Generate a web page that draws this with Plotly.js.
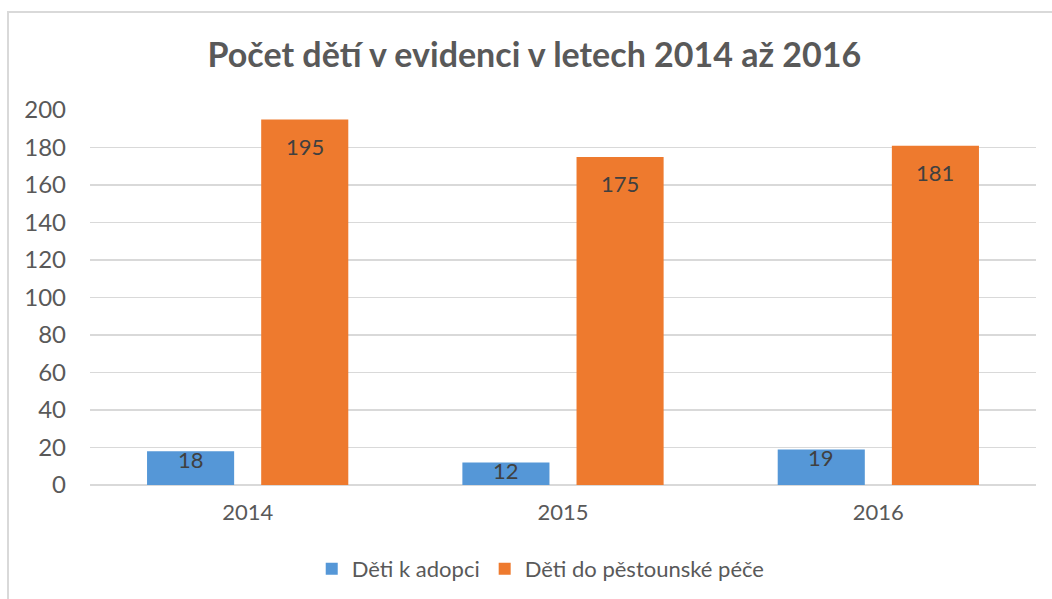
<!DOCTYPE html>
<html>
<head>
<meta charset="utf-8">
<script src="https://cdn.plot.ly/plotly-3.0.1.min.js"></script>
<style>
html,body{margin:0;padding:0;background:#fff;}
#chart{width:1052px;height:599px;}
#frame{position:absolute;left:7px;top:11px;width:1100px;height:700px;border-top:2px solid #d9d9d9;border-left:2px solid #d9d9d9;pointer-events:none;}
</style>
</head>
<body>
<div id="chart"></div>
<div id="frame"></div>
<script>
const years = ['2014', '2015', '2016'];
const adopce = [18, 12, 19];
const pestounska = [195, 175, 181];
const seriesNames = ['Děti k adopci', 'Děti do pěstounské péče'];
const titleText = 'Počet dětí v evidenci v letech 2014 až 2016';

const fontFam = 'Lato, "Open Sans", sans-serif';

const traces = [
  {type:'bar', name:seriesNames[0], x:years, y:adopce,
   marker:{color:'#5597D7'}, hoverinfo:'y'},
  {type:'bar', name:seriesNames[1], x:years, y:pestounska,
   marker:{color:'#EE7A2E'}, hoverinfo:'y'}
];

const annotations = [];
years.forEach((yr,i)=>{
  annotations.push({x:i, y:adopce[i], xref:'x', yref:'y', text:String(adopce[i]),
    showarrow:false, xshift:-57, yshift:-8, font:{family:fontFam, size:22, color:'#404040'}});
  annotations.push({x:i, y:pestounska[i], xref:'x', yref:'y', text:String(pestounska[i]),
    showarrow:false, xshift:57, yshift:-27, font:{family:fontFam, size:22, color:'#404040'}});
});

const layout = {
  width:1052, height:599,
  margin:{l:90, r:16, t:110, b:114},
  paper_bgcolor:'#fff', plot_bgcolor:'#fff',
  font:{family:fontFam, color:'#595959', size:22},
  title:{text:'<b>'+titleText+'</b>', x:0.508, xref:'container', xanchor:'center',
    y:0.908, yref:'container', yanchor:'middle',
    font:{family:fontFam, size:34, color:'#595959'}},
  barmode:'group', bargap:0.276, bargroupgap:0.237,
  xaxis:{type:'category', range:[-0.5,2.5], showgrid:false, zeroline:false, showline:false,
    ticks:'', ticklabelstandoff:12, tickfont:{size:22, color:'#595959'}},
  yaxis:{range:[0,200], dtick:20, tick0:0, showgrid:true, gridcolor:'#d9d9d9', gridwidth:1.5,
    zeroline:true, zerolinecolor:'#d9d9d9', zerolinewidth:1.5, showline:false, ticks:'',
    ticklabelstandoff:23, tickfont:{size:24, color:'#595959'}},
  showlegend:true,
  legend:{orientation:'h', x:0.514, xref:'container', xanchor:'center', y:0.05, yref:'container', yanchor:'middle',
    font:{size:22, color:'#595959'}, itemwidth:30, tracegroupgap:40},
  annotations:annotations
};

Plotly.newPlot('chart', traces, layout, {displayModeBar:false, staticPlot:true});
</script>
</body>
</html>
